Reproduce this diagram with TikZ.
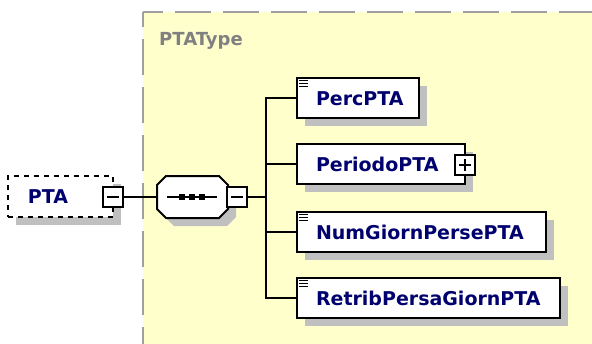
\documentclass[tikz,border=0pt]{standalone}
\usepackage{fontspec}
\setmainfont{DejaVu Sans}
\usetikzlibrary{shadows,calc}
\definecolor{bgyellow}{RGB}{255,255,204}
\definecolor{shadowgray}{RGB}{192,192,192}
\definecolor{bordergray}{RGB}{160,160,160}
\definecolor{labelgray}{RGB}{128,128,128}
\definecolor{navy}{RGB}{0,0,110}
\begin{document}
\begin{tikzpicture}[x=1pt,y=-1pt,
  conn/.style={line width=2pt, draw=black},
  boxshadow/.style={drop shadow={shadow xshift=8pt, shadow yshift=-8pt, fill=shadowgray, opacity=1}},
  elem/.style={draw=black, line width=2pt, fill=white, inner sep=0pt,
    minimum height=40pt, text height=14pt, text depth=0pt,
    font=\fontsize{19}{23}\selectfont\bfseries, text=navy, boxshadow},
  pm/.style={draw=black, line width=2pt, fill=white, minimum size=20pt, inner sep=0pt},
  sign/.style={line width=2pt, draw=black},
  doc/.style={line width=1pt, draw=black},
  region/.style={draw=bordergray, line width=2pt, dash pattern=on 36pt off 12pt}
]
\useasboundingbox (0,0) rectangle (592,343);
\fill[white] (0,0) rectangle (592,343);
% complex type region
\fill[bgyellow] (143,12) rectangle (595,346);
\draw[region, dash phase=16pt] (143,12) -- (595,12);
\draw[region, dash phase=21pt] (143,12) -- (143,346);
\node[anchor=base west, inner sep=0pt, text=labelgray, font=\fontsize{18}{22}\selectfont\bfseries] (typelabel) at (159,45) {PTAType};

% root element PTA
\node[draw=black, line width=1.6pt, dash pattern=on 5pt off 5pt, fill=white, inner sep=0pt,
  minimum width=105pt, minimum height=41pt, text height=14pt, text depth=0pt,
  font=\fontsize{19}{23}\selectfont\bfseries, text=navy, boxshadow] (pta) at (60.5,196.5)
  {\makebox[105pt][l]{\hspace*{20pt}PTA}};
\node[pm] (ptaminus) at (113,197) {};
\draw[sign] ($(ptaminus.center)+(-6,0)$) -- ($(ptaminus.center)+(6,0)$);

% sequence compositor
\node[inner sep=0pt, minimum width=71pt, minimum height=42pt] (seq) at (192.5,197) {};
\fill[shadowgray, shift={(8,8)}] (157,185) -- (166,176) -- (219,176) -- (228,185) -- (228,209) -- (219,218) -- (166,218) -- (157,209) -- cycle;
\draw[line width=2pt, fill=white] (157,185) -- (166,176) -- (219,176) -- (228,185) -- (228,209) -- (219,218) -- (166,218) -- (157,209) -- cycle;
\draw[line width=2pt] (167,197) -- (217,197);
\foreach \px in {182,192,202} {\fill (\px-3,194) rectangle (\px+3,200);}
\node[pm] (seqminus) at (237,197) {};
\draw[sign] ($(seqminus.center)+(-6,0)$) -- ($(seqminus.center)+(6,0)$);
\coordinate (junction) at (266,197);

% child elements
\node[elem, anchor=west] (perc) at (296,98) {\makebox[122pt][l]{\hspace*{19pt}PercPTA}};
\node[elem, anchor=west] (periodo) at (296,164) {\makebox[168pt][l]{\hspace*{19pt}PeriodoPTA}};
\node[elem, anchor=west] (num) at (296,232) {\makebox[249pt][l]{\hspace*{19pt}NumGiornPersePTA}};
\node[elem, anchor=west] (retrib) at (296,298) {\makebox[263pt][l]{\hspace*{19pt}RetribPersaGiornPTA}};

\node[pm] (periodoplus) at (465,165) {};
\draw[sign] ($(periodoplus.center)+(-6,0)$) -- ($(periodoplus.center)+(6,0)$);
\draw[sign] ($(periodoplus.center)+(0,-6)$) -- ($(periodoplus.center)+(0,6)$);

\foreach \n in {perc,num,retrib} {
  \foreach \d in {3.5,6.5,9.5} {
    \draw[doc] ($(\n.north west)+(3,\d)$) -- ++(9,0);
  }
}

% connectors
\draw[conn] (ptaminus.east) -- (seq.west);
\draw[conn] (seqminus.east) -- (junction);
\draw[conn] (junction) |- (perc.west);
\draw[conn] (junction) |- (periodo.west);
\draw[conn] (junction) |- (num.west);
\draw[conn] (junction) |- (retrib.west);
\end{tikzpicture}
\end{document}
